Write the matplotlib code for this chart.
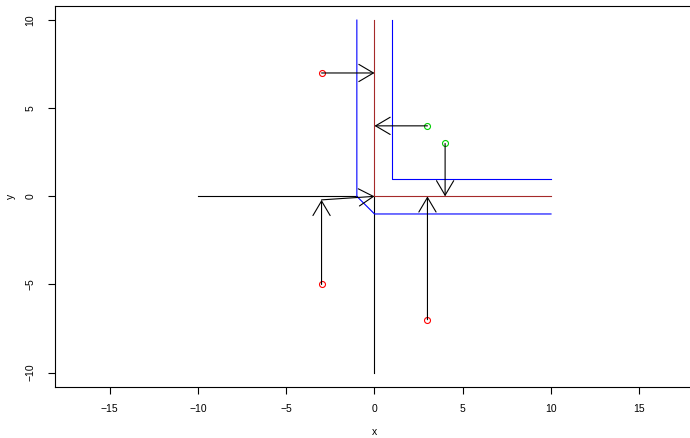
import matplotlib
matplotlib.use("Agg")
import matplotlib.pyplot as plt

plt.rcParams["font.family"] = ["Liberation Sans", "DejaVu Sans"]

# reference lines
black_x = [[-10, -1], [0, 0]]
black_y = [[0, 0], [-10, 0]]
red_x = [[0, 0], [0, 10]]
red_y = [[0, 10], [0, 0]]
blue_x = [[-1, -1, 0, 10], [1, 1, 10]]
blue_y = [[10, 0, -1, -1], [10, 1, 1]]

# points
red_px = [-3, -3, 3]
red_py = [7, -5, -7]
green_px = [3, 4]
green_py = [4, 3]

# arrows (from -> to)
arr_x0 = [-3, 3, 4, -3, 3, -3]
arr_y0 = [7, 4, 3, -5, -7, -0.2]
arr_x1 = [0, 0, 4, -3, 3, 0]
arr_y1 = [7, 4, 0, -0.2, 0, 0]

xticks = [-15, -10, -5, 0, 5, 10, 15]
yticks = [-10, -5, 0, 5, 10]

fig = plt.figure(figsize=(6.9, 4.38), dpi=100)
# plot region runs a few pixels past the right edge, as in the original
ax = fig.add_axes([55/690, (438-386.7)/438, 639/690, (386.7-6)/438])

lw = 0.8
for xs, ys in zip(black_x, black_y):
    ax.plot(xs, ys, color="black", lw=lw)
for xs, ys in zip(red_x, red_y):
    ax.plot(xs, ys, color="#A52A2A", lw=lw)
for xs, ys in zip(blue_x, blue_y):
    ax.plot(xs, ys, color="blue", lw=lw)

for x0, y0, x1, y1 in zip(arr_x0, arr_y0, arr_x1, arr_y1):
    ax.annotate("", xy=(x1, y1), xytext=(x0, y0),
                arrowprops=dict(arrowstyle="->,head_length=10.5,head_width=6.2",
                                mutation_scale=1, shrinkA=0, shrinkB=0,
                                color="black", lw=lw))

ax.plot(red_px, red_py, "o", mfc="none", mec="red", ms=4.3, mew=0.8)
ax.plot(green_px, green_py, "o", mfc="none", mec="#00CD00", ms=4.3, mew=0.8)

ax.set_xlim(-18.1, 18.1)
ax.set_ylim(-10.8, 10.8)
ax.set_xticks(xticks)
ax.set_yticks(yticks)
ax.set_xticklabels(["\u2212" + str(-t) if t < 0 else str(t) for t in xticks])
ax.set_yticklabels(["\u2212" + str(-t) if t < 0 else str(t) for t in yticks],
                   rotation=90, va="center")
ax.tick_params(axis="both", length=5, width=0.8, labelsize=7.5)
ax.tick_params(axis="x", pad=7.5)
ax.tick_params(axis="y", pad=9)
for s in ax.spines.values():
    s.set_linewidth(0.8)

ax.set_xlabel("x", fontsize=7.5)
ax.set_ylabel("y", fontsize=7.5)
ax.xaxis.set_label_coords(0.5, -(427-386.7)/380.7)
ax.yaxis.set_label_coords(-(55-16)/639, 0.5)

fig.savefig("out.png", dpi=100)
